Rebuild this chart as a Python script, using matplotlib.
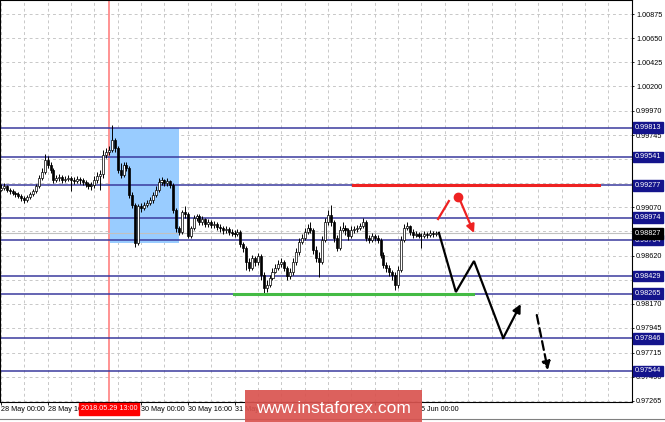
import numpy as np
import matplotlib
matplotlib.use('Agg')
from matplotlib import pyplot as plt
from matplotlib.patches import Rectangle
from matplotlib.lines import Line2D
from matplotlib.transforms import blended_transform_factory

plt.rcParams['font.family'] = ['Liberation Sans', 'DejaVu Sans']

# hourly candles, bar 0 = 28 May 00:00
first_open = 0.99232
closes = [0.99251, 0.99269, 0.99232, 0.99223, 0.99204, 0.99195, 0.99176, 0.99157, 0.99139, 0.99167,
          0.99195, 0.99223, 0.99269, 0.99344, 0.99400, 0.99512, 0.99465, 0.99419, 0.99325, 0.99344,
          0.99353, 0.99325, 0.99335, 0.99344, 0.99325, 0.99316, 0.99335, 0.99325, 0.99307, 0.99288,
          0.99269, 0.99279, 0.99325, 0.99363, 0.99381, 0.99559, 0.99587, 0.99605, 0.99699, 0.99624,
          0.99419, 0.99372, 0.99465, 0.99437, 0.99185, 0.99092, 0.98737, 0.99083, 0.99064, 0.99092,
          0.99111, 0.99139, 0.99185, 0.99232, 0.99307, 0.99325, 0.99297, 0.99316, 0.99279, 0.99045,
          0.98877, 0.98840, 0.99027, 0.99008, 0.98803, 0.98877, 0.98971, 0.98989, 0.98933, 0.98961,
          0.98915, 0.98933, 0.98905, 0.98915, 0.98887, 0.98877, 0.98859, 0.98868, 0.98840, 0.98831,
          0.98821, 0.98840, 0.98728, 0.98691, 0.98560, 0.98504, 0.98597, 0.98560, 0.98616, 0.98439,
          0.98317, 0.98345, 0.98411, 0.98467, 0.98504, 0.98541, 0.98560, 0.98504, 0.98429, 0.98467,
          0.98560, 0.98653, 0.98747, 0.98784, 0.98840, 0.98877, 0.98859, 0.98672, 0.98597, 0.98560,
          0.98765, 0.98933, 0.98999, 0.98933, 0.98784, 0.98691, 0.98859, 0.98877, 0.98859, 0.98803,
          0.98859, 0.98868, 0.98877, 0.98896, 0.98933, 0.98784, 0.98765, 0.98803, 0.98784, 0.98765,
          0.98625, 0.98532, 0.98504, 0.98467, 0.98439, 0.98345, 0.98485, 0.98765, 0.98877, 0.98896,
          0.98840, 0.98812, 0.98821, 0.98803, 0.98803, 0.98821, 0.98812, 0.98831, 0.98821, 0.98831]
highs = [0.99288, 0.99297, 0.99279, 0.99251, 0.99241, 0.99223, 0.99213, 0.99195, 0.99176, 0.99185,
         0.99213, 0.99241, 0.99288, 0.99372, 0.99437, 0.99568, 0.99549, 0.99493, 0.99437, 0.99372,
         0.99381, 0.99372, 0.99363, 0.99372, 0.99363, 0.99353, 0.99363, 0.99353, 0.99344, 0.99325,
         0.99307, 0.99307, 0.99363, 0.99400, 0.99419, 0.99605, 0.99624, 0.99643, 0.99839, 0.99717,
         0.99643, 0.99484, 0.99493, 0.99493, 0.99456, 0.99213, 0.99111, 0.99101, 0.99111, 0.99120,
         0.99139, 0.99167, 0.99213, 0.99269, 0.99344, 0.99353, 0.99335, 0.99344, 0.99325, 0.99297,
         0.99064, 0.98896, 0.99045, 0.99083, 0.99027, 0.98896, 0.98999, 0.99008, 0.99008, 0.98989,
         0.98971, 0.98961, 0.98952, 0.98943, 0.98933, 0.98915, 0.98896, 0.98896, 0.98887, 0.98868,
         0.98859, 0.98868, 0.98859, 0.98747, 0.98709, 0.98597, 0.98625, 0.98616, 0.98644, 0.98635,
         0.98467, 0.98392, 0.98439, 0.98504, 0.98541, 0.98579, 0.98597, 0.98579, 0.98523, 0.98504,
         0.98597, 0.98691, 0.98784, 0.98821, 0.98877, 0.98915, 0.98933, 0.98877, 0.98709, 0.98653,
         0.98803, 0.98971, 0.99045, 0.99092, 0.98952, 0.98812, 0.98896, 0.98933, 0.98905, 0.98877,
         0.98896, 0.98896, 0.98905, 0.98924, 0.98971, 0.98952, 0.98812, 0.98831, 0.98821, 0.98812,
         0.98784, 0.98653, 0.98560, 0.98532, 0.98485, 0.98467, 0.98523, 0.98803, 0.98915, 0.98933,
         0.98905, 0.98868, 0.98849, 0.98840, 0.98831, 0.98849, 0.98840, 0.98859, 0.98849, 0.98849]
lows = [0.99223, 0.99232, 0.99213, 0.99195, 0.99185, 0.99167, 0.99157, 0.99129, 0.99111, 0.99120,
        0.99148, 0.99176, 0.99204, 0.99251, 0.99325, 0.99381, 0.99437, 0.99391, 0.99297, 0.99307,
        0.99316, 0.99297, 0.99307, 0.99316, 0.99223, 0.99288, 0.99297, 0.99288, 0.99279, 0.99260,
        0.99241, 0.99232, 0.99251, 0.99297, 0.99232, 0.99344, 0.99531, 0.99559, 0.99587, 0.99587,
        0.99391, 0.99344, 0.99353, 0.99409, 0.99157, 0.99064, 0.98700, 0.98719, 0.99027, 0.99045,
        0.99073, 0.99092, 0.99111, 0.99167, 0.99213, 0.99279, 0.99269, 0.99269, 0.99251, 0.99017,
        0.98840, 0.98812, 0.98821, 0.98971, 0.98784, 0.98784, 0.98859, 0.98943, 0.98905, 0.98905,
        0.98887, 0.98887, 0.98877, 0.98877, 0.98859, 0.98840, 0.98821, 0.98831, 0.98812, 0.98803,
        0.98793, 0.98803, 0.98700, 0.98653, 0.98485, 0.98476, 0.98485, 0.98523, 0.98532, 0.98392,
        0.98271, 0.98280, 0.98327, 0.98392, 0.98457, 0.98485, 0.98513, 0.98476, 0.98392, 0.98401,
        0.98439, 0.98532, 0.98625, 0.98728, 0.98765, 0.98821, 0.98831, 0.98635, 0.98560, 0.98420,
        0.98541, 0.98747, 0.98905, 0.98896, 0.98747, 0.98663, 0.98672, 0.98840, 0.98812, 0.98765,
        0.98784, 0.98831, 0.98840, 0.98859, 0.98877, 0.98756, 0.98737, 0.98747, 0.98756, 0.98737,
        0.98597, 0.98504, 0.98467, 0.98429, 0.98392, 0.98298, 0.98317, 0.98467, 0.98747, 0.98859,
        0.98812, 0.98784, 0.98793, 0.98784, 0.98691, 0.98784, 0.98784, 0.98793, 0.98793, 0.98803]

level_prices = [0.99813, 0.99541, 0.99277, 0.98974, 0.98764, 0.98429, 0.98265, 0.97846, 0.97544]
level_labels = ['0.99813', '0.99541', '0.99277', '0.98974', '0.98764', '0.98429', '0.98265', '0.97846', '0.97544']
bid_price = 0.98827
bid_label = '0.98827'

# scale values; labels hidden under the level boxes are left blank
ytick_values = [0.97265, 0.97490, 0.97715, 0.97945, 0.98170, 0.98395, 0.98620, 0.98845, 0.99070,
                0.99295, 0.99520, 0.99745, 0.99970, 1.00200, 1.00425, 1.00650, 1.00875]
ytick_labels = ['0.97265', '0.97490', '0.97715', '0.97945', '0.98170', '0.98395', '0.98620', '', '0.99070',
                '', '', '0.99745', '0.99970', '1.00200', '1.00425', '1.00650', '1.00875']
xtick_bars = [0, 16, 32, 48, 64, 80, 96, 112, 128, 144]
xtick_labels = ['28 May 00:00', '28 May 16:00', '', '30 May 00:00', '30 May 16:00',
                '31 May 08:00', '', '', '', '5 Jun 00:00']

marker_bar = 37
marker_label = '2018.05.29 13:00'

# blue zone (bars, prices)
zone_bars = [37.3, 61.0]
zone_prices = [0.98737, 0.99813]

# forecast sketch
red_line_bars = [120.5, 204.8]
red_line_price = 0.99277
green_line_bars = [79.8, 161.6]
green_line_price = 0.98265
path_bars = [150.0, 155.8, 162.0, 172.0]
path_prices = [0.98831, 0.98280, 0.98569, 0.97850]
up_arrow = [(172.0, 0.97850), (178.0, 0.98167)]
down_arrow = [(183.5, 0.98065), (187.3, 0.97551)]
red_tick = [(149.7, 0.98961), (153.4, 0.99129)]
red_dot = (156.5, 0.99167)
red_arrow = [(157.4, 0.99125), (162.0, 0.98831)]

W, H = 665, 422
fig = plt.figure(figsize=(W / 100, H / 100), dpi=100)
ax = fig.add_axes([0, 20 / H, 632 / W, 402 / H])
ax.set_xlim(-0.3, 216.1)
ax.set_ylim(0.97253, 1.01006)

ax.set_yticks(ytick_values)
ax.set_yticklabels(ytick_labels)
ax.yaxis.tick_right()
ax.set_xticks(xtick_bars)
ax.set_xticklabels(xtick_labels)
for lbl in ax.get_xticklabels():
    lbl.set_horizontalalignment('left')
ax.tick_params(axis='y', length=1.5, width=0.6, pad=1.5, labelsize=5.2, direction='out')
ax.tick_params(axis='x', length=2, width=0.6, pad=1.0, labelsize=5.2, direction='out')

for v in ytick_values:
    ax.axhline(v, color='#c8c8c8', lw=0.7, ls=(0, (3, 3)), zorder=0)
for b in np.arange(0, 217, 8):
    ax.axvline(b, color='#c8c8c8', lw=0.7, ls=(0, (3, 3)), zorder=0)
for s in ax.spines.values():
    s.set_linewidth(0.8)

ax.add_patch(Rectangle((zone_bars[0], zone_prices[0]), zone_bars[1] - zone_bars[0],
                       zone_prices[1] - zone_prices[0], fc='#99ccff', ec='none', zorder=1))
ax.axvline(marker_bar, color='#ff8080', lw=1.2, zorder=1.5)

for p in level_prices:
    ax.axhline(p, color='#3a3a9e', lw=1.1, zorder=2)
ax.axhline(bid_price, color='#c0c0c0', lw=0.8, zorder=2)

# candles
opens = [first_open] + closes[:-1]
x = np.arange(len(closes))
o = np.array(opens)
c = np.array(closes)
ax.vlines(x, lows, highs, color='black', lw=0.7, zorder=3)
bull = c >= o
bottoms = np.minimum(o, c)
heights = np.abs(c - o)
ax.bar(x[bull], heights[bull], bottom=bottoms[bull], width=0.7, color='white',
       edgecolor='black', linewidth=0.5, zorder=4)
ax.bar(x[~bull], heights[~bull], bottom=bottoms[~bull], width=0.7, color='black',
       edgecolor='black', linewidth=0.5, zorder=4)

# drawings
ax.plot(red_line_bars, [red_line_price] * 2, color='#ee2222', lw=2.2, zorder=5)
ax.plot(green_line_bars, [green_line_price] * 2, color='#44bb44', lw=2.2, zorder=5)
ax.plot(path_bars, path_prices, color='black', lw=1.6, zorder=6, solid_joinstyle='miter')
ax.annotate('', xy=up_arrow[1], xytext=up_arrow[0],
            arrowprops=dict(arrowstyle='-|>', color='black', lw=1.6, mutation_scale=12,
                            shrinkA=0, shrinkB=0), zorder=6)
ax.annotate('', xy=down_arrow[1], xytext=down_arrow[0],
            arrowprops=dict(arrowstyle='-|>', color='black', lw=1.6, mutation_scale=12,
                            shrinkA=0, shrinkB=0, linestyle=(0, (4, 2))), zorder=6)
ax.plot([red_tick[0][0], red_tick[1][0]], [red_tick[0][1], red_tick[1][1]], color='#ee2222', lw=1.6, zorder=6)
ax.plot([red_dot[0]], [red_dot[1]], 'o', color='#ee2222', ms=6, zorder=6)
ax.annotate('', xy=red_arrow[1], xytext=red_arrow[0],
            arrowprops=dict(arrowstyle='-|>', color='#ee2222', lw=1.6, mutation_scale=12,
                            shrinkA=0, shrinkB=0), zorder=6)

# price labels on the right scale
trans_y = blended_transform_factory(ax.transAxes, ax.transData)
for p, t in zip(level_prices, level_labels):
    ax.text(1.0047, p, t, transform=trans_y, ha='left', va='center', fontsize=5.2, color='white',
            bbox=dict(boxstyle='square,pad=0.25', fc='#14148c', ec='#14148c'), clip_on=False, zorder=10)
ax.text(1.0047, bid_price, bid_label, transform=trans_y, ha='left', va='center', fontsize=5.2, color='white',
        bbox=dict(boxstyle='square,pad=0.25', fc='black', ec='black'), clip_on=False, zorder=11)

trans_x = blended_transform_factory(ax.transData, ax.transAxes)
ax.text(marker_bar, -0.0174, marker_label, transform=trans_x, ha='center', va='center', fontsize=5.2,
        color='white', bbox=dict(boxstyle='square,pad=0.3', fc='#ff0000', ec='#ff0000'),
        clip_on=False, zorder=10)

# watermark
fig.add_artist(Line2D([0, 1], [3 / H, 3 / H], transform=fig.transFigure, color='#808080', lw=0.8))
fig.add_artist(Rectangle((245 / W, 0), 177 / W, 32 / H, transform=fig.transFigure,
                         fc='#d9534f', ec='none', alpha=0.92, zorder=20))
fig.text(333.5 / W, 9 / H, 'www.instaforex.com', ha='center', va='baseline', fontsize=12.5,
         color='white', zorder=21)

fig.savefig('out.png', dpi=100)
